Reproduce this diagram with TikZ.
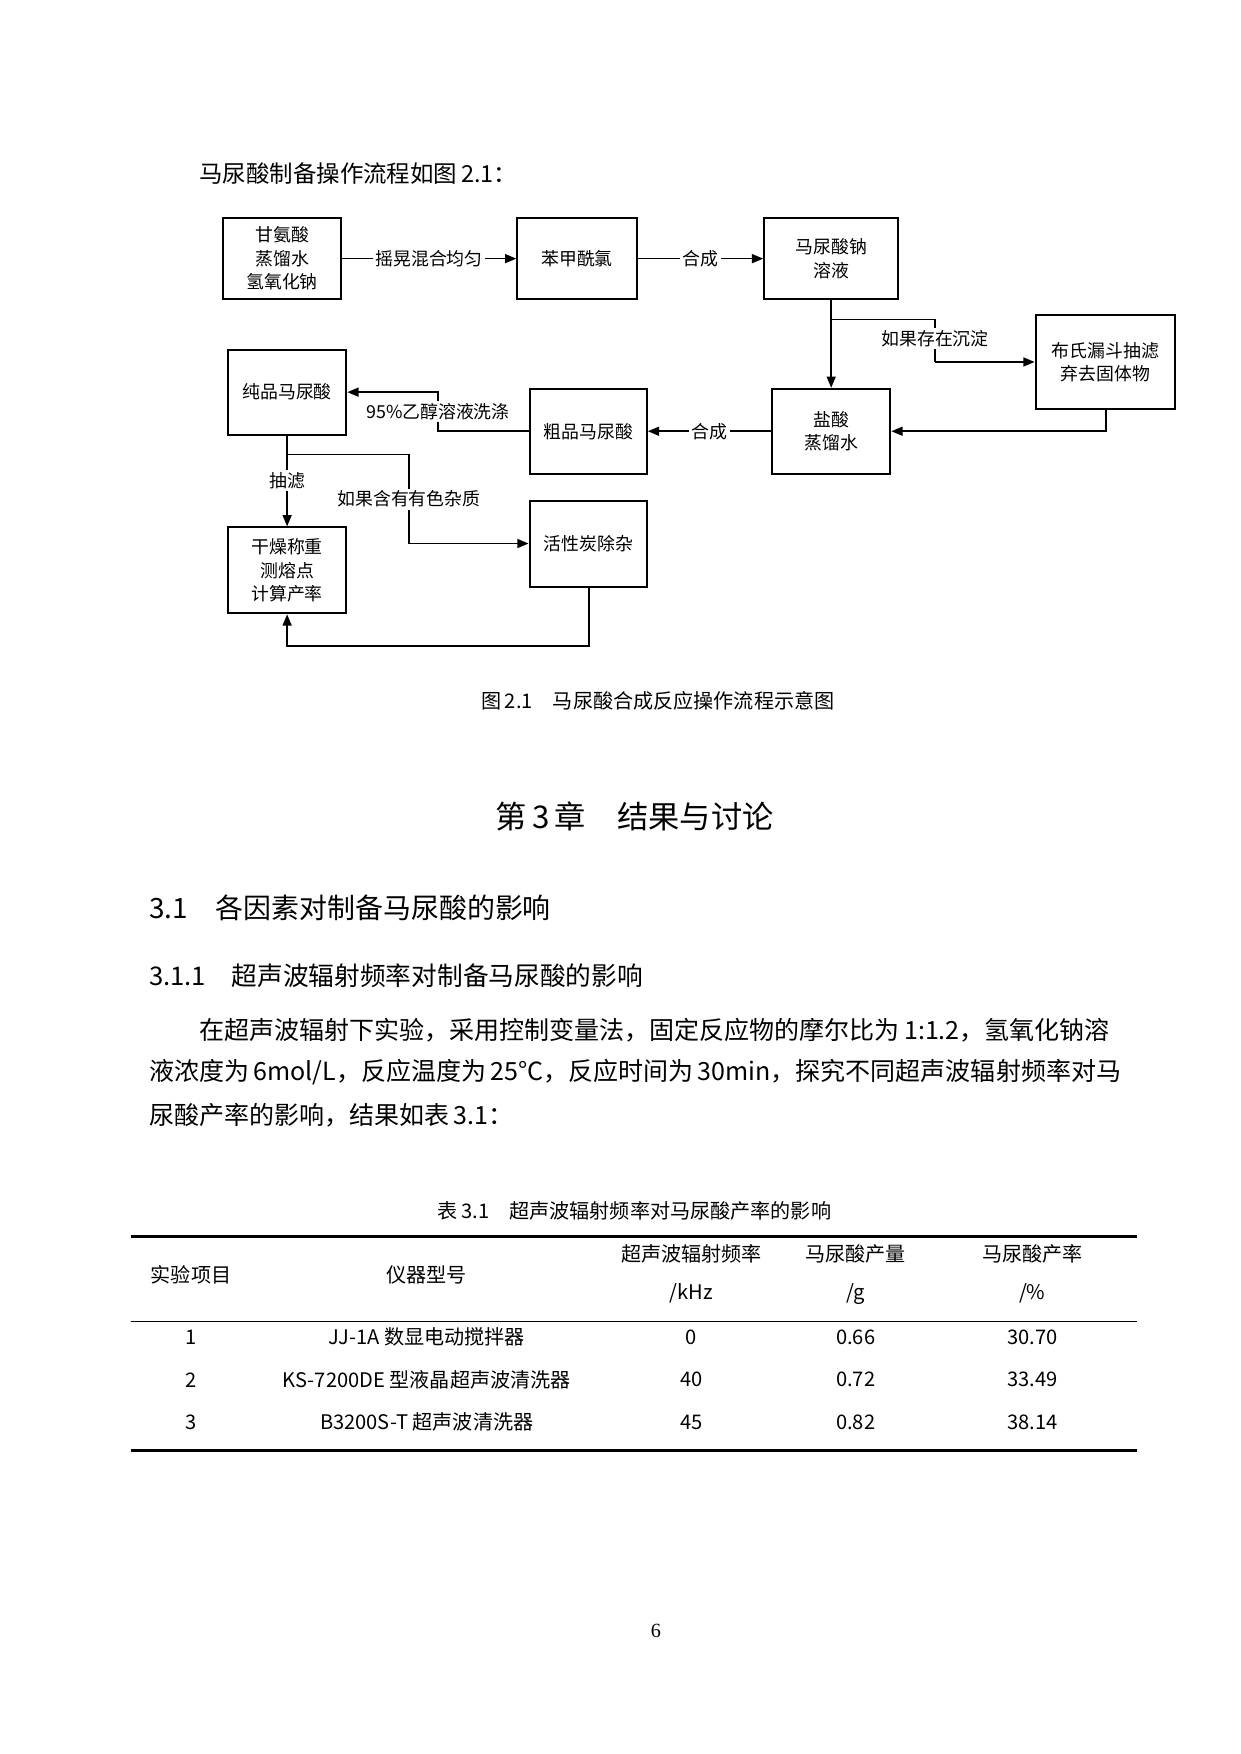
\documentclass[tikz,border=0pt]{standalone}
\usepackage{fontspec}
\setmainfont{Liberation Serif}
\newfontfamily\cjk{Noto Sans CJK SC}
\usetikzlibrary{arrows.meta}
\begin{document}
\begin{tikzpicture}[x=0.5pt,y=-0.5pt,
  box/.style={draw,line width=0.9pt,inner sep=0pt,font=\cjk\fontsize{8}{10.5}\selectfont,align=center},
  ar/.style={line width=0.7pt,-{Triangle[length=5pt,width=4pt]}},
  ln/.style={line width=0.7pt},
  lab/.style={fill=white,inner sep=1pt,font=\cjk\fontsize{8}{10}\selectfont},
  body/.style={anchor=west,inner sep=0pt,font=\cjk\fontsize{10.5}{12}\selectfont},
  para/.style={anchor=west,inner sep=0pt,font=\cjk\fontsize{11.2}{13}\selectfont},
  tb/.style={inner sep=0pt,font=\cjk\fontsize{9}{11}\selectfont}]
\useasboundingbox[fill=white] (0,0) rectangle (1110,1570);
\node[body] (intro) at (178,155) {马尿酸制备操作流程如图\,2.1：};
% boxes
\node[box,minimum width=52.5pt,minimum height=36.5pt] (b1) at (252.5,231.5) {甘氨酸\\蒸馏水\\氢氧化钠};
\node[box,minimum width=53.5pt,minimum height=36.5pt] (b2) at (516.5,231.5) {苯甲酰氯};
\node[box,minimum width=60pt,minimum height=36.5pt] (b3) at (744,231.5) {马尿酸钠\\溶液};
\node[box,minimum width=62.5pt,minimum height=42pt] (b4) at (989.5,324) {布氏漏斗抽滤\\弃去固体物};
\node[box,minimum width=53pt,minimum height=38pt] (b5) at (744,386) {盐酸\\蒸馏水};
\node[box,minimum width=52.5pt,minimum height=38pt] (b6) at (526.5,386) {粗品马尿酸};
\node[box,minimum width=53pt,minimum height=38pt] (b7) at (257,351) {纯品马尿酸};
\node[box,minimum width=53pt,minimum height=38.5pt] (b8) at (257,510.5) {干燥称重\\测熔点\\计算产率};
\node[box,minimum width=52.5pt,minimum height=38.5pt] (b9) at (526.5,486.5) {活性炭除杂};
\coordinate (c1) at (744,286);
\coordinate (c2) at (837,286);
\coordinate (c3) at (837,324);
\coordinate (c4) at (990,386);
\coordinate (c5) at (392,386);
\coordinate (c6) at (392,351);
\coordinate (c7) at (257,407);
\coordinate (c8) at (366,407);
\coordinate (c9) at (366,486.5);
\coordinate (c10) at (527,578);
\coordinate (c11) at (257,578);
% connectors
\draw[ar] (b1) -- node[lab]{摇晃混合均匀} (b2);
\draw[ar] (b2) -- node[lab]{合成} (b3);
\draw[ar] (b3) -- (b5);
\draw[ln] (c1) -- (c2) -- node[lab,pos=0.45]{如果存在沉淀} (c3);
\draw[ar] (c3) -- (b4.west|-c3);
\draw[ar] (b4.south-|c4) -- (c4) -- (b5.east);
\draw[ar] (b5) -- node[lab]{合成} (b6);
\draw[ar] (b6.west) -- (c5) -- node[lab,pos=0.5]{95\%乙醇溶液洗涤} (c6) -- (b7.east);
\draw[ar] (b7) -- node[lab,pos=0.5]{抽滤} (b8);
\draw[ln] (c7) -- (c8) -- node[lab,pos=0.5]{如果含有有色杂质} (c9);
\draw[ar] (c9) -- (b9.west);
\draw[ar] (b9.south-|c10) -- (c10) -- (c11) -- (b8.south);
% captions and text
\node[inner sep=0pt,font=\cjk\fontsize{9}{11}\selectfont] (cap) at (589,627) {图\,2.1\quad 马尿酸合成反应操作流程示意图};
\node[inner sep=0pt,font=\cjk\fontsize{14}{16}\selectfont] (ch) at (568,731) {第\,3\,章\quad 结果与讨论};
\node[anchor=west,inner sep=0pt,font=\cjk\fontsize{12.5}{14}\selectfont] (s1) at (133,813) {3.1\quad 各因素对制备马尿酸的影响};
\node[anchor=west,inner sep=0pt,font=\cjk\fontsize{11.5}{13}\selectfont] (s2) at (133,873) {3.1.1\quad 超声波辐射频率对制备马尿酸的影响};
\node[para] (p1) at (178,922) {在超声波辐射下实验，采用控制变量法，固定反应物的摩尔比为\,1:1.2，氢氧化钠溶};
\node[para] (p2) at (133,960) {液浓度为\,6mol/L，反应温度为\,25°C，反应时间为\,30min，探究不同超声波辐射频率对马};
\node[para] (p3) at (133,998) {尿酸产率的影响，结果如表\,3.1：};
\node[inner sep=0pt,font=\cjk\fontsize{9}{11}\selectfont] (tcap) at (568,1084) {表\,3.1\quad 超声波辐射频率对马尿酸产率的影响};
% table
\coordinate (tl) at (117,1107); \coordinate (tr) at (1018,1107);
\coordinate (ml) at (117,1183); \coordinate (mr) at (1018,1183);
\coordinate (bl) at (117,1298); \coordinate (br) at (1018,1298);
\draw[line width=1.4pt] (tl) -- (tr);
\draw[line width=0.7pt] (ml) -- (mr);
\draw[line width=1.4pt] (bl) -- (br);
\node[tb] (h1) at (171,1141) {实验项目};
\node[tb] (h2) at (382,1141) {仪器型号};
\node[tb] (h3) at (619,1122) {超声波辐射频率};
\node[tb] (h3b) at (619,1158) {/kHz};
\node[tb] (h4) at (766,1122) {马尿酸产量};
\node[tb] (h4b) at (766,1158) {/g};
\node[tb] (h5) at (924,1122) {马尿酸产率};
\node[tb] (h5b) at (924,1158) {/\%};
\node[tb] (r11) at (171,1197) {1};
\node[tb] (r12) at (382,1197) {JJ-1A 数显电动搅拌器};
\node[tb] (r13) at (619,1197) {0};
\node[tb] (r14) at (766,1197) {0.66};
\node[tb] (r15) at (924,1197) {30.70};
\node[tb] (r21) at (171,1235) {2};
\node[tb] (r22) at (382,1235) {KS-7200DE 型液晶超声波清洗器};
\node[tb] (r23) at (619,1235) {40};
\node[tb] (r24) at (766,1235) {0.72};
\node[tb] (r25) at (924,1235) {33.49};
\node[tb] (r31) at (171,1273) {3};
\node[tb] (r32) at (382,1273) {B3200S-T 超声波清洗器};
\node[tb] (r33) at (619,1273) {45};
\node[tb] (r34) at (766,1273) {0.82};
\node[tb] (r35) at (924,1273) {38.14};
\node[inner sep=0pt,font=\fontsize{9}{11}\selectfont] (pg) at (587,1460) {6};
\end{tikzpicture}
\end{document}
